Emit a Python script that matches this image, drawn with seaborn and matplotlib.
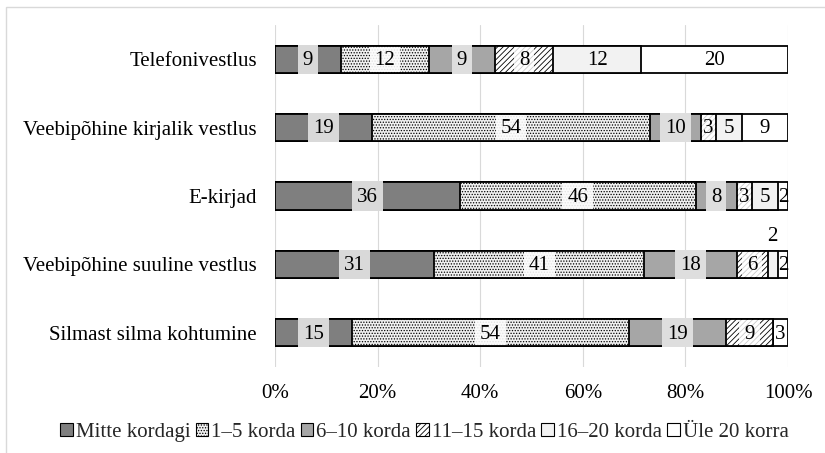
import numpy as np
import pandas as pd
import matplotlib
matplotlib.use("Agg")
import matplotlib.pyplot as plt
from matplotlib.patches import Rectangle, Patch
import seaborn as sns

# Survey answers (counts) per communication channel
categories = [
    "Telefonivestlus",
    "Veebipõhine kirjalik vestlus",
    "E-kirjad",
    "Veebipõhine suuline vestlus",
    "Silmast silma kohtumine",
]
series = ["Mitte kordagi", "1–5 korda", "6–10 korda", "11–15 korda",
          "16–20 korda", "Üle 20 korra"]
mitte_kordagi = [9, 19, 36, 31, 15]
korda_1_5 = [12, 54, 46, 41, 54]
korda_6_10 = [9, 10, 8, 18, 19]
korda_11_15 = [8, 3, 3, 6, 9]
korda_16_20 = [12, 5, 5, 2, 0]
yle_20 = [20, 9, 2, 2, 3]
xtick_labels = ["0%", "20%", "40%", "60%", "80%", "100%"]

# Segment styles
fills = ["#7f7f7f", "#f0f0f0", "#a6a6a6", "#ffffff", "#f2f2f2", "#ffffff"]
hatches = [None, "......", None, "//////", None, None]
# label-box fill (None = no box), hatch colour, whether it spans the outline
box_fills = ["#d9d9d9", "#fbfbfb", "#dedede", "#ffffff", None, None]
box_hatch_col = [None, "#e2e2e2", None, "#cccccc", None, None]
box_cover = [True, False, True, False, False, False]

counts = np.array([mitte_kordagi, korda_1_5, korda_6_10, korda_11_15,
                   korda_16_20, yle_20], dtype=float).T
pct = counts / counts.sum(axis=1, keepdims=True) * 100
cum = np.cumsum(pct, axis=1)
starts = cum - pct

sns.set_theme(style="white")
plt.rcParams["font.family"] = ["Liberation Serif", "DejaVu Serif"]
plt.rcParams["hatch.linewidth"] = 0.6

fig = plt.figure(figsize=(8.25, 4.53), dpi=100)
ax = fig.add_axes([0.3333, 0.1898, 0.9552 - 0.3333, 0.9448 - 0.1898])

bar_h = 0.4
# stacked bars: draw cumulative totals from the last series back to the first
for i in range(len(series) - 1, -1, -1):
    df = pd.DataFrame({"cat": categories, "val": cum[:, i]})
    sns.barplot(data=df, x="val", y="cat", orient="h", ax=ax,
                color=fills[i], saturation=1, width=bar_h,
                edgecolor="black", linewidth=1.3, hatch=hatches[i],
                zorder=2)

# value labels with their boxes
fs = 15
px_per_unit = (0.9552 - 0.3333) * 825 / 100
unit_per_px_y = 5 / ((0.9448 - 0.1898) * 453)
label_above = {(3, 4)}
for r in range(len(categories)):
    for i in range(len(series)):
        v = int(counts[r, i])
        if v == 0:
            continue
        mid = starts[r, i] + pct[r, i] / 2
        if (r, i) in label_above:
            ax.text(mid, r - bar_h / 2 - 0.07, str(v), ha="center",
                    va="bottom", fontsize=fs, color="black", zorder=5)
            continue
        if box_fills[i] is not None:
            w = (10.4 * len(str(v)) + 10) / px_per_unit
            x0 = max(mid - w / 2, starts[r, i] + (0 if box_cover[i] else 0.15))
            x1 = min(mid + w / 2, cum[r, i] - (0 if box_cover[i] else 0.15))
            extra = 1.0 if box_cover[i] else -1.0
            h = bar_h + 2 * extra * unit_per_px_y
            hc = box_hatch_col[i]
            box = Rectangle((x0, r - h / 2), x1 - x0, h,
                            facecolor=box_fills[i],
                            edgecolor=hc if hc else "none", linewidth=0,
                            hatch=hatches[i] if hc else None, zorder=4)
            ax.add_patch(box)
        ax.text(mid, r + 0.02, str(v), ha="center", va="center",
                fontsize=fs, color="black", zorder=5)

ax.set_xlim(0, 100)
ax.set_ylim(len(categories) - 0.5, -0.5)
ax.set_xticks(np.arange(0, 101, 20))
ax.set_xticklabels(xtick_labels)
ax.set_xlabel("")
ax.set_ylabel("")
ax.grid(axis="x", color="#d9d9d9", linewidth=0.8)
ax.grid(axis="y", visible=False)
ax.set_axisbelow(True)
for s in ax.spines.values():
    s.set_visible(False)
ax.tick_params(axis="x", length=0, pad=12, labelsize=fs, colors="black")
ax.tick_params(axis="y", length=0, pad=13, labelsize=fs, colors="black")

handles = []
for i, name in enumerate(series):
    handles.append(Patch(facecolor=fills[i], edgecolor="black", linewidth=0.8,
                         hatch=hatches[i], label=name))
fig.legend(handles=handles, loc="center", bbox_to_anchor=(0.5145, 0.046),
           ncol=6, frameon=False, fontsize=fs, handlelength=0.6,
           handleheight=0.6, handletextpad=0.15, columnspacing=0.25,
           borderaxespad=0)

# chart-area border
fig.patches.append(Rectangle((6 / 825, -0.5), 2, 0.5 + 1 - 7 / 453,
                             transform=fig.transFigure, fill=False,
                             edgecolor="#d9d9d9", linewidth=1.0))

fig.savefig("out.png", dpi=100)
